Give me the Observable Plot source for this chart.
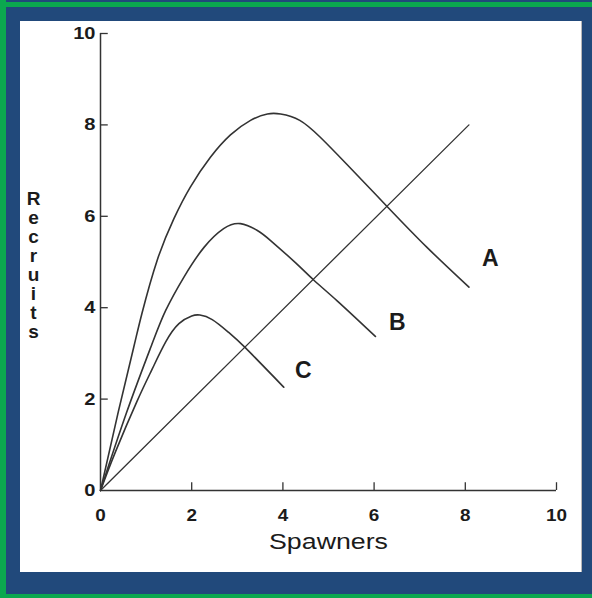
<!DOCTYPE html>
<html><head><meta charset="utf-8">
<script src="https://cdn.jsdelivr.net/npm/d3@7"></script>
<script src="https://cdn.jsdelivr.net/npm/@observablehq/plot@0.6"></script>
<style>
html,body{margin:0;padding:0;}
body{width:592px;height:598px;background:#21497b;position:relative;overflow:hidden;}
#gl{position:absolute;left:0;top:0;width:6px;height:598px;background:#0ba84f}
#gt{position:absolute;left:0;top:2px;width:592px;height:5px;background:#0ba84f}
#gb{position:absolute;left:0;top:594px;width:592px;height:4px;background:#0ba84f}
#panel{position:absolute;left:20px;top:21px;width:561px;height:551px;background:#fff;box-shadow:1px 0 0 #b8b8b8;}
</style></head>
<body>
<div id="gl"></div><div id="gt"></div><div id="gb"></div>
<div id="panel"></div>
<script>
// ---- data (Spawners S, Recruits R) ----
const xTicks = [0, 2, 4, 6, 8, 10];
const yTicks = [0, 2, 4, 6, 8, 10];
const xLabel = "Spawners";
const yLabel = "Recruits";

const curveA = [[0,0],[0.39,1.72],[0.73,3.14],[0.91,3.88],[1.24,5.03],[1.61,5.95],[1.97,6.64],[2.41,7.29],[2.85,7.78],[3.29,8.1],[3.66,8.24],[3.95,8.24],[4.37,8.1],[4.82,7.73],[5.39,7.15],[6.29,6.21],[7.16,5.32],[8.08,4.45]];
const curveB = [[0,0],[0.57,1.7],[1.12,3.18],[1.43,3.94],[1.83,4.67],[2.27,5.32],[2.7,5.73],[3.07,5.84],[3.44,5.69],[3.73,5.47],[4.28,4.98],[4.68,4.6],[5.19,4.15],[6.03,3.37]];
const curveC = [[0,0],[0.33,0.85],[0.8,1.95],[1.13,2.65],[1.43,3.25],[1.72,3.65],[2.0,3.82],[2.18,3.84],[2.45,3.74],[2.81,3.46],[3.18,3.12],[4.02,2.26]];
const replacement = [[0,0],[8.08,8.0]];

const curveNames = ["A", "B", "C"];
const labelS = [8.55, 6.51, 4.45];
const labelR = [5.08, 3.68, 2.63];

// ---- chart ----
const ink = "#333333";
const tickLen = 0.17;
const labels = curveNames.map((n, i) => ({name: n, S: labelS[i], R: labelR[i]}));
const lineOpts = {x: d => d[0], y: d => d[1], stroke: ink, strokeWidth: 1.6, curve: "natural"};

const chart = Plot.plot({
  width: 561, height: 551,
  marginLeft: 80, marginRight: 25, marginTop: 12, marginBottom: 82,
  x: {domain: [0, 10]},
  y: {domain: [0, 10]},
  style: {fontFamily: "'Liberation Sans', Arial, sans-serif", color: "#1b1b1b", background: "white", overflow: "visible"},
  marks: [
    Plot.ruleY([0], {x1: 0, x2: 10, stroke: ink, strokeWidth: 1.5}),
    Plot.ruleX([0], {y1: 0, y2: 10, stroke: ink, strokeWidth: 1.5}),
    Plot.ruleX(xTicks.filter(d => d > 0), {x: d => d, y1: 0, y2: tickLen, stroke: ink, strokeWidth: 1.3}),
    Plot.ruleY(yTicks.filter(d => d > 0), {y: d => d, x1: 0, x2: tickLen, stroke: ink, strokeWidth: 1.3}),
    Plot.axisX({ticks: xTicks, tickSize: 0, tickPadding: 19, fontSize: 16, fontWeight: "bold", label: null}),
    Plot.axisY({ticks: yTicks, tickSize: 0, tickPadding: 5, fontSize: 17, fontWeight: "bold", label: null}),
    Plot.line(curveA, lineOpts),
    Plot.line(curveB, lineOpts),
    Plot.line(curveC, lineOpts),
    Plot.line(replacement, {x: d => d[0], y: d => d[1], stroke: ink, strokeWidth: 1.3}),
    Plot.text(labels, {x: "S", y: "R", text: "name", fontSize: 23, fontWeight: "bold", fill: "#1b1b1b"}),
    Plot.text([xLabel], {frameAnchor: "bottom", lineAnchor: "top", dy: 43, fontSize: 22, fill: "#1b1b1b"}),
    Plot.text([yLabel.split("").join("\n")], {frameAnchor: "left", dx: -67, dy: 3, textAnchor: "middle", lineHeight: 1.0, fontSize: 19, fontWeight: "bold", fill: "#1b1b1b"})
  ]
});
document.getElementById("panel").appendChild(chart);

// horizontal stretch of single-line texts to match the scanned original
d3.select(chart).selectAll("text").each(function() {
  if (this.querySelector("tspan")) return;
  const t = this.textContent;
  if (t === xLabel) {
    this.setAttribute("textLength", 119);
    this.setAttribute("lengthAdjust", "spacingAndGlyphs");
  } else if (/^\d+$/.test(t)) {
    const w = this.getComputedTextLength();
    this.setAttribute("textLength", (w * 1.18).toFixed(1));
    this.setAttribute("lengthAdjust", "spacingAndGlyphs");
  }
});
</script>
</body></html>
